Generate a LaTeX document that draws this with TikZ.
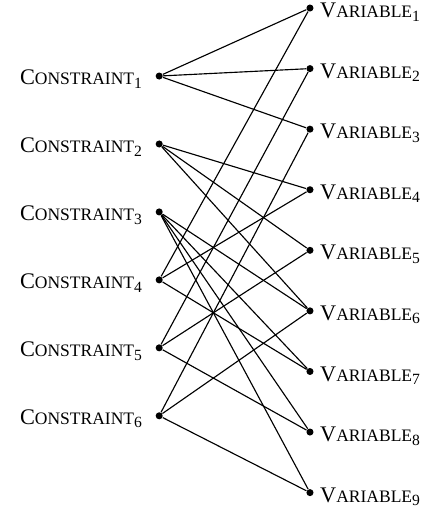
\documentclass[tikz,border=0pt]{standalone}
\usepackage{fontspec}
\setmainfont{Liberation Serif}
\usetikzlibrary{positioning}

% faked small caps for the labels
\newcommand{\cname}[1]{C{\fontsize{7.7}{9}\selectfont ONSTRAINT}\textsubscript{#1}}
\newcommand{\vname}[1]{V{\fontsize{7.7}{9}\selectfont ARIABLE}\textsubscript{#1}}

\begin{document}
\begin{tikzpicture}[
    font=\fontsize{9.8}{12}\selectfont,
    on grid,
    dot/.style={circle, fill=black, inner sep=0pt, minimum size=3.1pt},
    cons/.style={label={[label distance=1.8pt, yshift=-1.4pt]left:#1}},
    var/.style={label={[label distance=-0.8pt, yshift=-1.8pt]right:#1}},
    edge/.style={line width=0.5pt, black}
  ]
    \useasboundingbox (0,0) rectangle (6.65,-7.85);
    % constraints
    \node[dot, cons=\cname{1}] (c1) at (2.46,-1.175) {};
    \node[dot, below=1.05cm of c1, cons=\cname{2}] (c2) {};
    \node[dot, below=1.05cm of c2, cons=\cname{3}] (c3) {};
    \node[dot, below=1.05cm of c3, cons=\cname{4}] (c4) {};
    \node[dot, below=1.05cm of c4, cons=\cname{5}] (c5) {};
    \node[dot, below=1.05cm of c5, cons=\cname{6}] (c6) {};
    % variables
    \node[dot, var=\vname{1}] (v1) at (4.79,-0.124) {};
    \node[dot, below=0.936cm of v1, var=\vname{2}] (v2) {};
    \node[dot, below=0.936cm of v2, var=\vname{3}] (v3) {};
    \node[dot, below=0.936cm of v3, var=\vname{4}] (v4) {};
    \node[dot, below=0.936cm of v4, var=\vname{5}] (v5) {};
    \node[dot, below=0.936cm of v5, var=\vname{6}] (v6) {};
    \node[dot, below=0.936cm of v6, var=\vname{7}] (v7) {};
    \node[dot, below=0.936cm of v7, var=\vname{8}] (v8) {};
    \node[dot, below=0.936cm of v8, var=\vname{9}] (v9) {};
    % edges
    \draw[edge] (c1) -- (v1);
    \draw[edge] (c1) -- (v2);
    \draw[edge] (c1) -- (v3);
    \draw[edge] (c2) -- (v4);
    \draw[edge] (c2) -- (v5);
    \draw[edge] (c2) -- (v6);
    \draw[edge] (c3) -- (v6);
    \draw[edge] (c3) -- (v7);
    \draw[edge] (c3) -- (v8);
    \draw[edge] (c3) -- (v9);
    \draw[edge] (c4) -- (v1);
    \draw[edge] (c4) -- (v4);
    \draw[edge] (c4) -- (v7);
    \draw[edge] (c5) -- (v2);
    \draw[edge] (c5) -- (v5);
    \draw[edge] (c5) -- (v8);
    \draw[edge] (c6) -- (v3);
    \draw[edge] (c6) -- (v6);
    \draw[edge] (c6) -- (v9);
  \end{tikzpicture}
\end{document}
